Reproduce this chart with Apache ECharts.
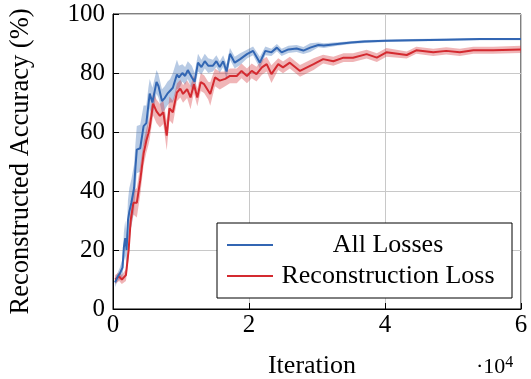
<!DOCTYPE html>
<html>
<head>
<meta charset="utf-8">
<script src="https://cdn.jsdelivr.net/npm/echarts@6/dist/echarts.min.js"></script>
<style>
  html, body { margin: 0; padding: 0; background: #fff; }
  #chart { width: 531px; height: 379px; }
</style>
</head>
<body>
<div id="chart"></div>
<script>
  // iterations and mean / spread of reconstructed accuracy (%)
  var allIter = [300, 700, 1000, 1400, 1600, 1800, 2000, 2200, 2400, 2700, 3100, 3300, 3500, 4000, 4500, 4900, 5200, 5400, 5800, 6400, 6700, 7200, 7600, 8000, 8400, 8800, 9400, 9700, 10200, 10600, 11000, 11600, 12000, 12500, 13000, 13500, 14000, 14700, 15200, 15700, 16200, 16700, 17200, 17900, 18700, 19700, 20600, 21600, 22400, 23300, 24100, 24800, 25800, 27000, 28000, 29000, 30200, 31000, 33000, 35000, 37000, 40000, 44000, 49000, 54000, 60000]
  var allMean = [9, 11, 12, 14, 21, 24, 20, 30, 33, 36, 41, 48, 54, 54.5, 62, 63, 69, 73, 70, 77, 75.5, 70.5, 71.5, 73, 74, 75, 79.5, 78.5, 80, 79, 81, 78.5, 77, 83.5, 82, 84, 82.5, 82.5, 84, 82, 84, 80.5, 86.5, 83.5, 84.7, 86.4, 87.5, 83.5, 87.5, 87, 88.6, 87, 88, 88.3, 87.6, 88.6, 89.5, 89.3, 89.8, 90.3, 90.7, 90.9, 91.1, 91.3, 91.5, 91.5]
  var allSd = [1.5, 1.5, 2, 3, 5, 6, 5, 7, 8, 8, 8, 8, 8, 8, 7, 6, 6, 5, 5, 4, 4, 4, 4, 4, 4, 5, 5, 4, 3, 3, 3, 4, 3, 3, 2.5, 2.5, 2.5, 2, 2, 2, 2, 2.5, 2, 2, 2, 1.5, 1.5, 2, 1.5, 1.2, 1.2, 1.2, 1.2, 1.2, 1.2, 1.5, 0.8, 0.8, 0.6, 0.5, 0.5, 0.4, 0.4, 0.4, 0.4, 0.4]

  var recIter = [300, 900, 1300, 1900, 2300, 2600, 3000, 3500, 4000, 4500, 4900, 5200, 5400, 5900, 6400, 6900, 7400, 7900, 8300, 8800, 9400, 9900, 10300, 10900, 11400, 11900, 12400, 12900, 13400, 14000, 14300, 15000, 15700, 16500, 17200, 18200, 18900, 19700, 20400, 21100, 21900, 22600, 23300, 24300, 25000, 26000, 27500, 29500, 30900, 32400, 33900, 35300, 37300, 38800, 40200, 43200, 44600, 47100, 49000, 51000, 53000, 55900, 60000]
  var recMean = [10, 11, 10, 11.5, 20, 30, 36, 36, 43.6, 52.7, 57, 59.5, 61.6, 69.6, 67, 65.5, 66.7, 58.8, 68, 66.7, 73.4, 74.7, 72.9, 74.5, 71.7, 76.2, 71.7, 76.9, 76.2, 74, 72.9, 78.5, 77.4, 78, 79, 79, 80.7, 79, 80.7, 79.6, 81.9, 83, 79.6, 83, 81.9, 83.5, 80.7, 83, 84.7, 84, 85.2, 85.2, 86.4, 85.2, 87, 86.1, 87.7, 87, 87.5, 87, 87.7, 87.7, 88]
  var recSd = [1.5, 1.5, 1.5, 2, 3, 3, 4, 5, 5, 4, 4, 4, 4, 4, 4, 4, 4, 5, 4, 4, 3, 3, 3, 3, 4, 3, 3, 3, 3, 3, 4, 3, 3, 2.5, 2.5, 2.5, 2.5, 2.5, 2.5, 2.5, 2.5, 2.5, 3, 2, 2, 2, 2, 2, 1.5, 1.5, 1.5, 1.5, 1.5, 1.5, 1.5, 1.2, 1.2, 1.2, 1.2, 1.2, 1.2, 1.2, 1.2]

  var xTicks = [0, 20000, 40000, 60000]
  var yTicks = [0, 20, 40, 60, 80, 100]

  var blue = '#3266b3'
  var red = '#d42a30'
  var font = '"Liberation Serif", "DejaVu Serif", serif'

  // shaded spread: one polygon, lower edge forward then upper edge back
  function band(iter, mean, sd, color) {
    var rows = iter.map(function (x, i) { return [x, mean[i] - sd[i], mean[i] + sd[i]] })
    return {
      type: 'custom',
      silent: true,
      clip: true,
      z: 1,
      data: rows,
      encode: { x: 0, y: [1, 2] },
      renderItem: function (params, api) {
        if (params.dataIndex !== 0) {
          return
        }
        var pts = []
        rows.forEach(function (r) { pts.push(api.coord([r[0], r[1]])) })
        for (var i = rows.length - 1; i >= 0; i--) {
          pts.push(api.coord([rows[i][0], rows[i][2]]))
        }
        return {
          type: 'polygon',
          shape: { points: pts },
          style: { fill: color, opacity: 0.35 }
        }
      }
    }
  }

  var myChart = echarts.init(document.getElementById('chart'))
  var option = {
    animation: false,
    textStyle: { fontFamily: font },
    grid: {
      left: 113,
      right: 10,
      top: 14,
      bottom: 70,
      outerBoundsMode: 'none',
      containLabel: false,
      show: true,
      borderColor: '#000',
      borderWidth: 1
    },
    legend: {
      data: [
        { name: 'All Losses', icon: 'rect' },
        { name: 'Reconstruction Loss', icon: 'rect' }
      ],
      orient: 'vertical',
      right: 19,
      top: 223,
      itemWidth: 46,
      itemHeight: 2,
      itemGap: 5,
      padding: [9, 14, 9, 10],
      borderColor: '#000',
      borderWidth: 1,
      backgroundColor: '#fff',
      formatter: function (name) {
        return '{t|' + name + '}'
      },
      textStyle: {
        rich: {
          t: { width: 220, align: 'center', fontSize: 26, fontFamily: font, color: '#000', lineHeight: 26 }
        }
      }
    },
    xAxis: {
      type: 'value',
      min: 0,
      max: 60000,
      interval: 20000,
      name: 'Iteration',
      nameLocation: 'middle',
      nameGap: 44,
      nameTextStyle: { fontSize: 26, color: '#000', fontFamily: font, padding: [0, 10, 0, 0] },
      axisLine: { show: true, lineStyle: { color: '#000', width: 1 } },
      axisTick: { show: true, inside: true, length: 6, lineStyle: { color: '#000' } },
      axisLabel: {
        fontSize: 25, color: '#000', fontFamily: font, margin: 4,
        formatter: function (v) { return xTicks.indexOf(v) >= 0 ? String(v / 10000) : '' }
      },
      splitLine: { show: true, lineStyle: { color: '#c8c8c8', width: 1 } }
    },
    yAxis: {
      type: 'value',
      min: 0,
      max: 100,
      interval: 20,
      name: 'Reconstructed Accuracy (%)',
      nameLocation: 'middle',
      nameGap: 78,
      nameTextStyle: { fontSize: 26.5, color: '#000', fontFamily: font },
      axisLine: { show: true, lineStyle: { color: '#000', width: 1 } },
      axisTick: { show: true, inside: true, length: 6, lineStyle: { color: '#000' } },
      axisLabel: {
        fontSize: 25, color: '#000', fontFamily: font, margin: 8,
        formatter: function (v) { return yTicks.indexOf(v) >= 0 ? String(v) : '' }
      },
      splitLine: { show: true, lineStyle: { color: '#c8c8c8', width: 1 } }
    },
    graphic: [{
      type: 'text',
      left: 476,
      top: 355,
      style: {
        text: '·10{s|4}',
        font: '22px ' + font,
        fill: '#000',
        rich: { s: { fontSize: 16, verticalAlign: 'top', padding: [0, 0, 9, 0], fontFamily: font } }
      }
    }],
    series: [
      band(allIter, allMean, allSd, blue),
      band(recIter, recMean, recSd, red),
      {
        name: 'All Losses',
        type: 'line',
        data: allIter.map(function (x, i) { return [x, allMean[i]] }),
        symbol: 'none',
        color: blue,
        lineStyle: { color: blue, width: 2 },
        z: 5
      },
      {
        name: 'Reconstruction Loss',
        type: 'line',
        data: recIter.map(function (x, i) { return [x, recMean[i]] }),
        symbol: 'none',
        color: red,
        lineStyle: { color: red, width: 2 },
        z: 4
      }
    ]
  }
  myChart.setOption(option)
</script>
</body>
</html>
